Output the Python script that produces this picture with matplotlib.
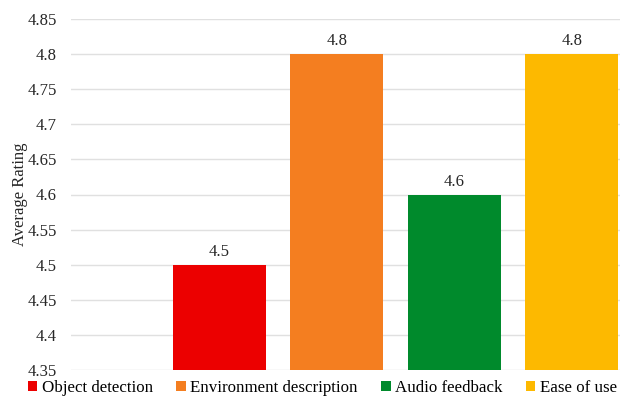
import numpy as np
import matplotlib
matplotlib.use("Agg")
from matplotlib import pyplot as plt

# chart data
features = ["Object detection", "Environment description", "Audio feedback", "Ease of use"]
ratings = [4.5, 4.8, 4.6, 4.8]
bar_colors = ["#EC0000", "#F47E20", "#008A2C", "#FDB900"]
yticks = [4.35, 4.4, 4.45, 4.5, 4.55, 4.6, 4.65, 4.7, 4.75, 4.8, 4.85]

plt.rcParams['font.family'] = ['Liberation Serif', 'DejaVu Serif']

W, H = 620, 397
fig = plt.figure(figsize=(W / 100, H / 100), dpi=100)
# plot area runs on past the right edge (picture is cropped there)
ax = fig.add_axes([71 / W, 27 / H, 649 / W, 351 / H])

x = np.arange(len(features))
bars = ax.bar(x, ratings, width=0.79, color=bar_colors, label=features, zorder=3)
for b, v in zip(bars, ratings):
    ax.text(b.get_x() + b.get_width() / 2, v + 0.007, "{:g}".format(v),
            ha='center', va='bottom', fontsize=12, color='#262626')

ax.set_xlim(-1.26, 4.26)
ax.set_ylim(4.35, 4.85)
ax.set_yticks(yticks)
ax.set_yticklabels(["{:g}".format(t) for t in yticks], fontsize=12, color='#262626')
ax.set_xticks([])
ax.tick_params(axis='y', length=0, pad=10)
ax.grid(axis='y', color='#e0e0e0', linewidth=1, zorder=0)
for s in ax.spines.values():
    s.set_visible(False)
ax.set_ylabel("Average Rating", fontsize=12, color='#262626', labelpad=0)

fig.legend(handles=bars, labels=features, loc='center left',
           bbox_to_anchor=(28 / W, 9 / H), ncol=4, frameon=False,
           fontsize=12.2, handlelength=0.55, handleheight=0.55,
           handletextpad=0.25, columnspacing=1.4, borderaxespad=0, borderpad=0)

fig.savefig("out.png", dpi=100)
